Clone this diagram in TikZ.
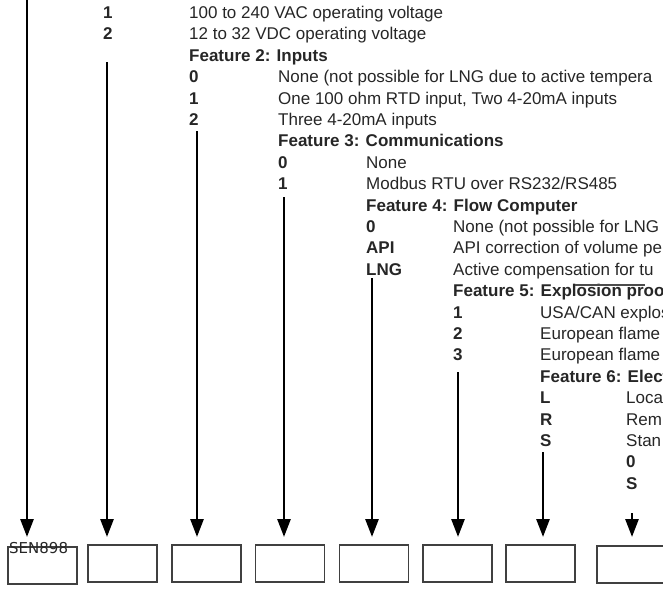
\documentclass[tikz,border=0pt]{standalone}
\usepackage{fontspec}
\setmainfont{Liberation Sans}
\newfontfamily\slotfont{DejaVu Sans}
\usetikzlibrary{arrows.meta}

\begin{document}
\begin{tikzpicture}[x=1pt,y=-1pt,
	txt/.style={anchor=base west,inner sep=0pt,text=black!85,font=\fontsize{17}{19}\selectfont},
	code/.style={txt,font=\fontsize{17}{19}\selectfont\bfseries},
	feat/.style={line width=2.7pt,-{Triangle[length=18pt,width=13pt]}},
	slot/.style={draw=black!75,line width=1.1pt,minimum width=69pt,minimum height=37pt,inner sep=0pt}]

	\useasboundingbox (0,0) rectangle (663,592);

	% feature 1
	\node[code] (f1a) at (103,18.5) {1};
	\node[txt] (d1a) at (189,18.5) {100 to 240 VAC operating voltage};
	\node[code] (f1b) at (103,39.9) {2};
	\node[txt] (d1b) at (189,39.9) {12 to 32 VDC operating voltage};

	% feature 2
	\node[code] (h2) at (189,61.3) {Feature 2: Inputs};
	\node[code] (f2a) at (189,82.7) {0};
	\node[txt] (d2a) at (278,82.7) {None (not possible for LNG due to active tempera};
	\node[code] (f2b) at (189,104.1) {1};
	\node[txt] (d2b) at (278,104.1) {One 100 ohm RTD input, Two 4-20mA inputs};
	\node[code] (f2c) at (189,125.5) {2};
	\node[txt] (d2c) at (278,125.5) {Three 4-20mA inputs};

	% feature 3
	\node[code] (h3) at (278,146.9) {Feature 3: Communications};
	\node[code] (f3a) at (278,168.3) {0};
	\node[txt] (d3a) at (366,168.3) {None};
	\node[code] (f3b) at (278,189.7) {1};
	\node[txt] (d3b) at (366,189.7) {Modbus RTU over RS232/RS485};

	% feature 4
	\node[code] (h4) at (366,211.1) {Feature 4: Flow Computer};
	\node[code] (f4a) at (366,232.5) {0};
	\node[txt] (d4a) at (453,232.5) {None (not possible for LNG};
	\node[code] (f4b) at (366,253.9) {API};
	\node[txt] (d4b) at (453,253.9) {API correction of volume pe};
	\node[code] (f4c) at (366,275.3) {LNG};
	\node[txt] (d4c) at (453,275.3) {Active compensation for tu};

	% feature 5
	\node[code] (h5) at (453,296.7) {Feature 5: Explosion proof};
	\draw[black!70,line width=1.2pt] (575,285) -- (645,285);
	\node[code] (f5a) at (453,318.1) {1};
	\node[txt] (d5a) at (540,318.1) {USA/CAN explos};
	\node[code] (f5b) at (453,339.5) {2};
	\node[txt] (d5b) at (540,339.5) {European flame};
	\node[code] (f5c) at (453,360.9) {3};
	\node[txt] (d5c) at (540,360.9) {European flame};

	% feature 6
	\node[code] (h6) at (540,382.3) {Feature 6: Elect};
	\node[code] (f6a) at (540,403.7) {L};
	\node[txt] (d6a) at (626,403.7) {Loca};
	\node[code] (f6b) at (540,425.1) {R};
	\node[txt] (d6b) at (626,425.1) {Rem};
	\node[code] (f6c) at (540,446.5) {S};
	\node[txt] (d6c) at (626,446.5) {Stan};

	% feature 7
	\node[code] (f7a) at (626,467.9) {0};
	\node[code] (f7b) at (626,489.3) {S};

	% order code slots
	\node[slot] (b1) at (42.5,565.5) {};
	\node[slot] (b2) at (122.5,563.5) {};
	\node[slot] (b3) at (206.5,563.5) {};
	\node[slot] (b4) at (290,563.5) {};
	\node[slot] (b5) at (374,563.5) {};
	\node[slot] (b6) at (457.5,563.5) {};
	\node[slot] (b7) at (540.5,563.5) {};
	\node[slot] (b8) at (631.5,564.5) {};
	\node[anchor=base west,inner sep=0pt,text=black!85,font=\slotfont\fontsize{15}{15}\selectfont] (sen) at (9,553) {SEN898};

	% arrows
	\coordinate (tips) at (0,537);
	\coordinate (s1) at (27,-3);
	\coordinate (s2) at (107,62);
	\coordinate (s3) at (197,131);
	\coordinate (s4) at (284,197);
	\coordinate (s5) at (372,278);
	\coordinate (s6) at (458,372);
	\coordinate (s7) at (543,452);
	\coordinate (s8) at (632,513);
	\foreach \i in {1,...,8}
		\draw[feat] (s\i) -- (s\i |- tips);
\end{tikzpicture}
\end{document}
